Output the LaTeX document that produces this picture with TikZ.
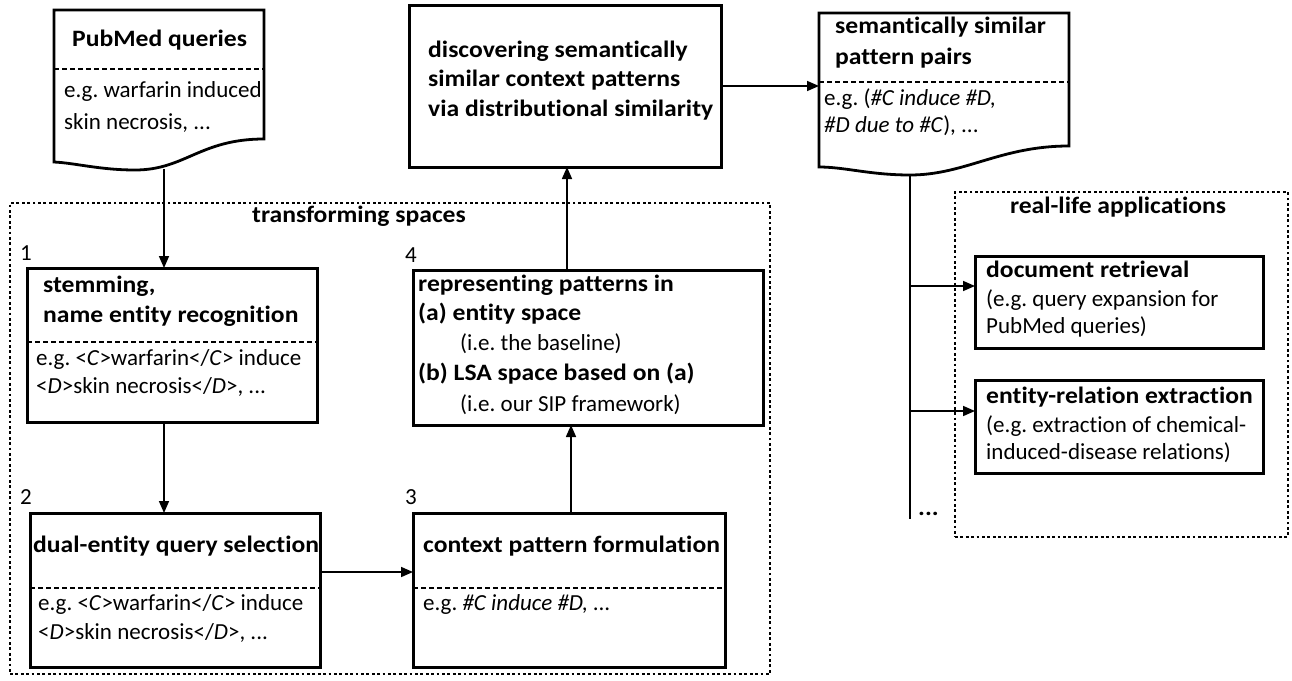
\documentclass[tikz,border=0pt]{standalone}
\usepackage{fontspec}
\setmainfont{Carlito}[Ligatures=NoCommon,BoldFeatures={FakeStretch=1.09}]
\frenchspacing
\usetikzlibrary{arrows.meta}
\begin{document}
\begin{tikzpicture}[x=1pt,y=-1pt,
 box/.style={draw,line width=3pt,anchor=north west,inner sep=0,outer sep=0},
 docshape/.style={draw,line width=2.8pt,line join=miter},
 sep/.style={line width=1.1pt,dash pattern=on 5pt off 3pt},
 dotbox/.style={draw,line width=2.8pt,dash pattern=on 2.8pt off 2.6pt,anchor=north west,inner sep=0,outer sep=0},
 conn/.style={line width=1.6pt},
 arr/.style={conn,-{Triangle[length=12pt,width=10pt]}},
 tx/.style={anchor=mid west,inner sep=0,font=\fontsize{23}{28}\selectfont},
 tb/.style={anchor=mid west,inner sep=0,font=\fontsize{23.5}{28}\selectfont\bfseries},
 num/.style={anchor=mid west,inner sep=0,font=\fontsize{23}{28}\selectfont},
]
\useasboundingbox (0,0) rectangle (1292,680);

% containers
\node[dotbox,minimum width=760pt,minimum height=471pt] (ts) at (10,203) {};
\node[tb,anchor=mid] (tsl) at (359,220) {transforming spaces};
\node[dotbox,minimum width=333pt,minimum height=345pt] (rl) at (955,192) {};
\node[tb,anchor=mid] (rll) at (1118,211) {real-life applications};

% PubMed document
\draw[docshape] (54,10) -- (264,10) -- (264,139) .. controls (200,139) and (185,170) .. (135,170) .. controls (100,170) and (75,163) .. (54,162) -- cycle;
\coordinate (pmb) at (164,169);
\draw[sep] (54,69) -- (264,69);
\node[tb] (pmt) at (72,44) {PubMed queries};
\node[tx] (pm1) at (64,95) {e.g. warfarin induced};
\node[tx] (pm2) at (64,127) {skin necrosis, ...};

% discovering box
\node[box,minimum width=312pt,minimum height=162pt] (disc) at (409,5) {};
\node[tb] (d1) at (428,55) {discovering semantically};
\node[tb] (d2) at (428,84) {similar context patterns};
\node[tb] (d3) at (428,114) {via distributional similarity};

% semantic document
\draw[docshape] (819,13) -- (1069,13) -- (1069,146) .. controls (1000,146) and (965,175) .. (910,175) .. controls (870,175) and (845,167) .. (819,167) -- cycle;
\coordinate (smb) at (910,175);
\coordinate (sml) at (819,86);
\draw[sep] (819,82) -- (1069,82);
\node[tb] (s1) at (835,31) {semantically similar};
\node[tb] (s2) at (835,62) {pattern pairs};
\node[tx] (s3) at (824,103) {e.g. (\textit{\#C induce \#D,}};
\node[tx] (s4) at (824,130) {\textit{\#D due to \#C}), ...};

% box 1
\node[num] (n1) at (20,258) {1};
\node[box,minimum width=290pt,minimum height=154pt] (b1) at (27,268) {};
\draw[sep] (b1.west |- 0,342) -- (b1.east |- 0,342);
\node[tb] (b1a) at (43,290) {stemming,};
\node[tb] (b1b) at (43,320) {name entity recognition};
\node[tx] (b1c) at (36,363) {e.g. <\textit{C}>warfarin</\textit{C}> induce};
\node[tx] (b1d) at (36,391) {<\textit{D}>skin necrosis</\textit{D}>, ...};

% box 2
\node[num] (n2) at (20,502) {2};
\node[box,minimum width=290pt,minimum height=154pt] (b2) at (30,513) {};
\draw[sep] (b2.west |- 0,588) -- (b2.east |- 0,588);
\node[tb] (b2a) at (33,550) {dual-entity query selection};
\node[tx] (b2c) at (38,608) {e.g. <\textit{C}>warfarin</\textit{C}> induce};
\node[tx] (b2d) at (38,637) {<\textit{D}>skin necrosis</\textit{D}>, ...};

% box 3
\node[num] (n3) at (405,502) {3};
\node[box,minimum width=312pt,minimum height=154pt] (b3) at (413,513) {};
\draw[sep] (b3.west |- 0,588) -- (b3.east |- 0,588);
\node[tb] (b3a) at (423,550) {context pattern formulation};
\node[tx] (b3c) at (423,608) {e.g. \textit{\#C induce \#D, ...}};

% box 4
\node[num] (n4) at (405,260) {4};
\node[box,minimum width=350pt,minimum height=155pt] (b4) at (413,270) {};
\node[tb] (b4a) at (418,289) {representing patterns in};
\node[tb] (b4b) at (418,318) {(a) entity space};
\node[tx] (b4c) at (460,348) {(i.e. the baseline)};
\node[tb] (b4d) at (418,378) {(b) LSA space based on (a)};
\node[tx] (b4e) at (460,409) {(i.e. our SIP framework)};

% application boxes
\node[box,minimum width=288pt,minimum height=92pt] (dr) at (975,256) {};
\node[tb] (dr1) at (986,275) {document retrieval};
\node[tx] (dr2) at (986,304) {(e.g. query expansion for};
\node[tx] (dr3) at (986,331) {PubMed queries)};
\node[box,minimum width=288pt,minimum height=93pt] (er) at (975,380) {};
\node[tb] (er1) at (986,401) {entity-relation extraction};
\node[tx] (er2) at (986,430) {(e.g. extraction of chemical-};
\node[tx] (er3) at (986,457) {induced-disease relations)};

% connectors
\coordinate (c14) at (567,0);
\coordinate (c34) at (571,0);
\coordinate (c23) at (0,572);
\draw[arr] (pmb) -- (pmb |- b1.north);
\draw[arr] (b1.south -| pmb) -- (b2.north -| pmb);
\draw[arr] (b2.east |- c23) -- (b3.west |- c23);
\draw[arr] (b3.north -| c34) -- (b4.south -| c34);
\draw[arr] (b4.north -| c14) -- (disc.south -| c14);
\draw[arr] (disc.east |- sml) -- (sml);
\coordinate (vend) at (910,519);
\coordinate (j1) at (910,286);
\coordinate (j2) at (910,411);
\draw[conn] (smb) -- (vend);
\draw[arr] (j1) -- (j1 -| dr.west);
\draw[arr] (j2) -- (j2 -| er.west);
\node[tb] (more) at (918,513) {...};
\end{tikzpicture}
\end{document}
